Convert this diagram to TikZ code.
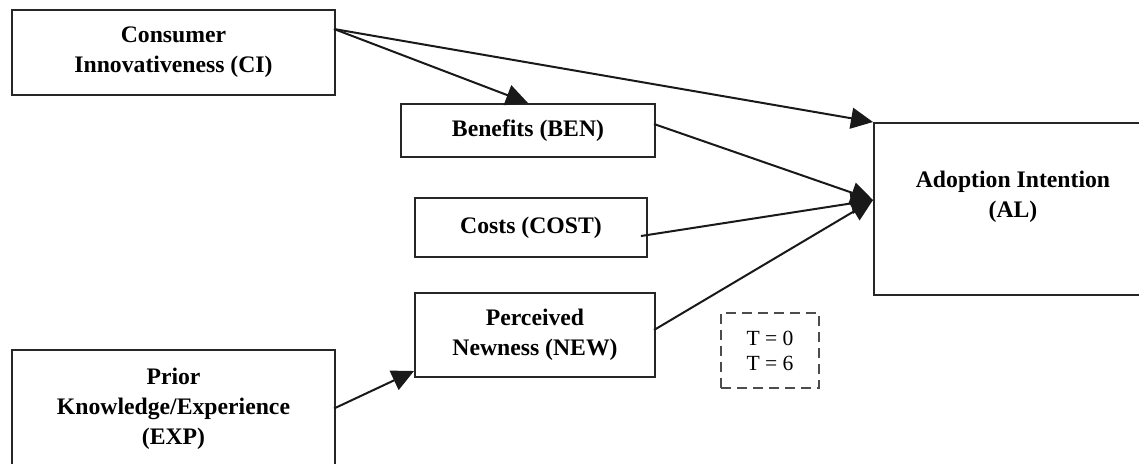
\documentclass[tikz,border=0pt]{standalone}
\usepackage{fontspec}
\setmainfont{Liberation Serif}
\usetikzlibrary{arrows.meta}

\begin{document}
\begin{tikzpicture}[x=.5pt,y=-.5pt,
  varbox/.style={draw=black!85, line width=1pt, align=center, inner sep=0pt,
    font=\fontsize{11.85}{15}\selectfont\bfseries},
  link/.style={draw=black!90, line width=1pt, -{Triangle[length=11pt,width=10.5pt]}},
  timebox/.style={draw=black!70, line width=.9pt, dash pattern=on 5pt off 3pt,
    align=center, inner sep=0pt, font=\fontsize{10.8}{12.5}\selectfont}]
\useasboundingbox (0,0) rectangle (1139,463);
\clip (0,0) rectangle (1139,463);
\fill[white] (0,0) rectangle (1139,463);

% constructs
\node[varbox, minimum width=161.5pt, minimum height=42.5pt] (ci) at (173.5,52.5) {Consumer\\Innovativeness (CI)};
\node[varbox, minimum width=127pt, minimum height=26.5pt] (ben) at (528,130.5) {Benefits (BEN)};
\node[varbox, minimum width=116pt, minimum height=29.5pt] (cost) at (531,227.5) {Costs (COST)};
\node[varbox, minimum width=120pt, minimum height=42pt] (new) at (535,335) {Perceived\\Newness (NEW)};
\node[varbox, minimum width=161.5pt, minimum height=58.5pt] (exp) at (173.5,408.5) {Prior\\Knowledge/Experience\\(EXP)};
\node[varbox, minimum width=139pt, minimum height=86pt] (al) at (1013,209) {Adoption Intention\\(AL)\\\mbox{}};
\node[timebox, minimum width=49pt, minimum height=37.5pt] (time) at (770,350.5) {T = 0\\T = 6};

\coordinate (alin) at ([yshift=4.5pt]al.west);

% paths
\draw[link] ([xshift=-1pt,yshift=11.75pt]ci.east) -- (ben.north);
\draw[link] ([xshift=-1pt,yshift=11.75pt]ci.east) -- (al.north west);
\draw[link] ([xshift=-1pt,yshift=3.25pt]ben.east) -- (alin);
\draw[link] ([xshift=-3.5pt,yshift=-4.25pt]cost.east) -- (alin);
\draw[link] ([xshift=-1pt,yshift=2.5pt]new.east) -- (alin);
\draw[link] ([xshift=-1pt]exp.east) -- ([yshift=3.5pt]new.south west);
\end{tikzpicture}
\end{document}
